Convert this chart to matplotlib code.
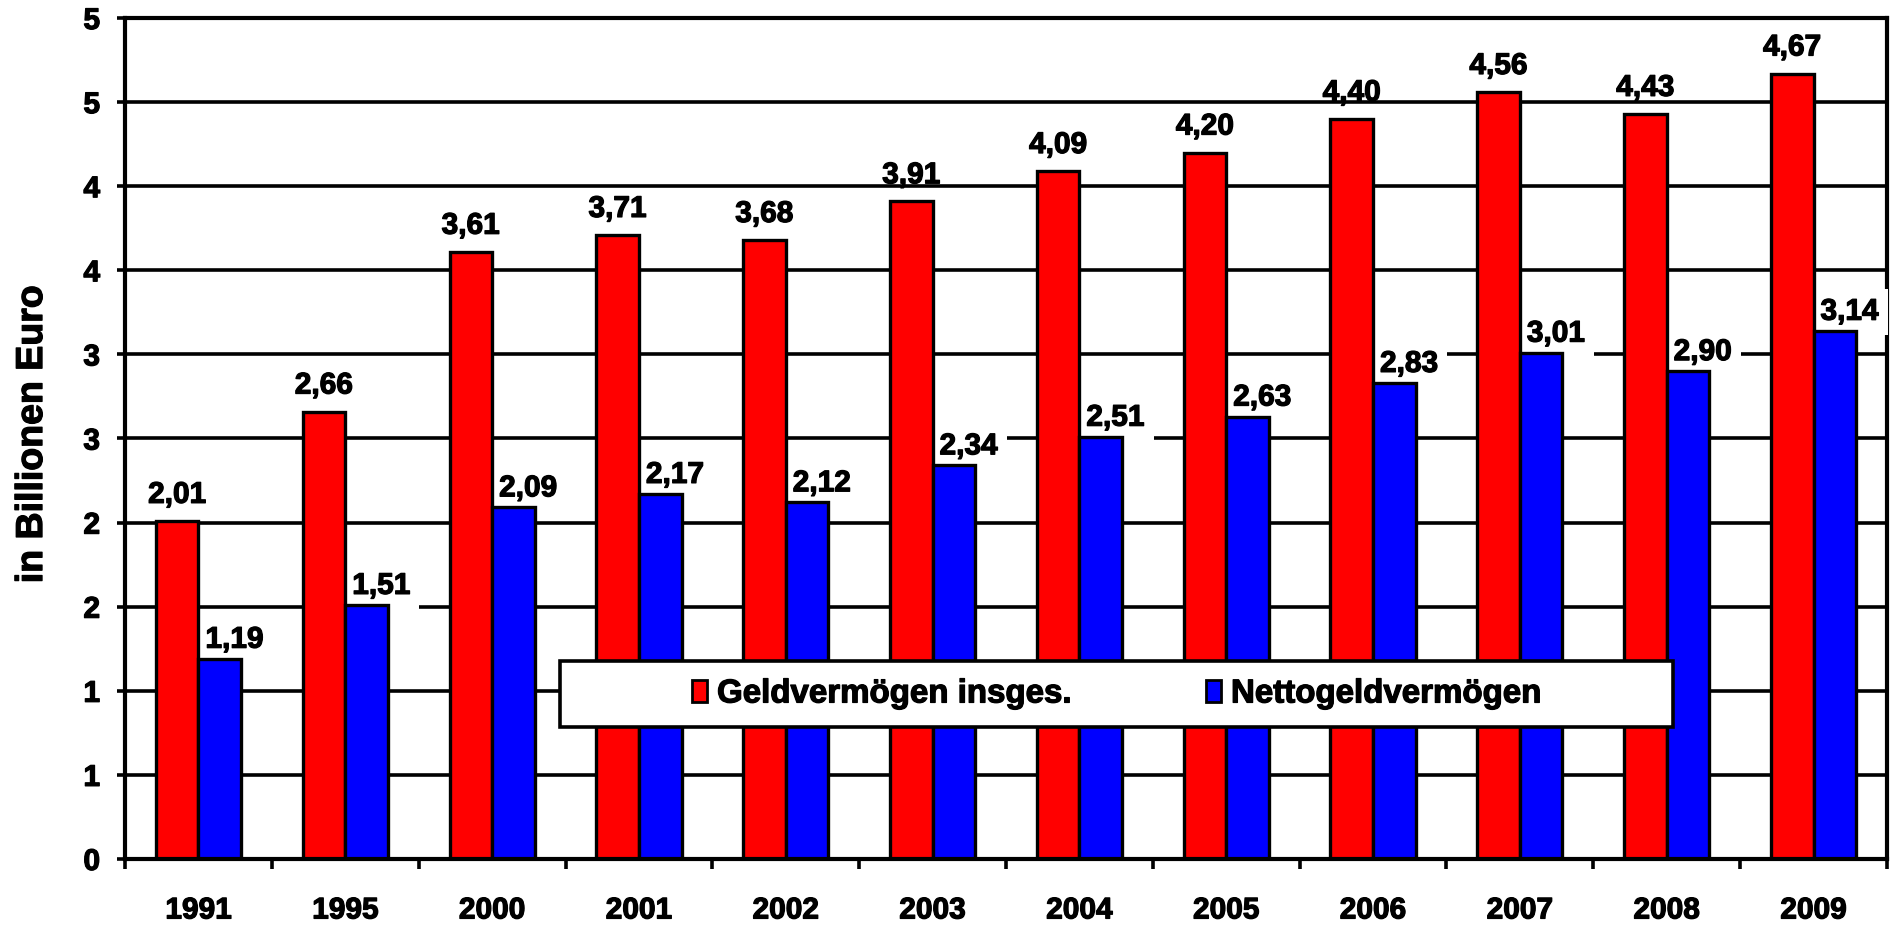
import numpy as np
import matplotlib
matplotlib.use("Agg")
import matplotlib.pyplot as plt
import matplotlib.patheffects as pe
from matplotlib.patches import Patch, Rectangle

plt.rcParams['font.family'] = ['Liberation Sans', 'DejaVu Sans']
plt.rcParams['font.weight'] = 'bold'

years = ["1991", "1995", "2000", "2001", "2002", "2003", "2004", "2005", "2006", "2007", "2008", "2009"]
geld_insges = [2.01, 2.66, 3.61, 3.71, 3.68, 3.91, 4.09, 4.20, 4.40, 4.56, 4.43, 4.67]
netto_geld = [1.19, 1.51, 2.09, 2.17, 2.12, 2.34, 2.51, 2.63, 2.83, 3.01, 2.90, 3.14]
y_ticks = [0, 0.5, 1.0, 1.5, 2.0, 2.5, 3.0, 3.5, 4.0, 4.5, 5.0]
y_tick_labels = ["0", "1", "1", "2", "2", "3", "3", "4", "4", "5", "5"]
series_names = ["Geldvermögen insges.", "Nettogeldvermögen"]

RED = "#ff0000"
BLUE = "#0000ff"
FS = 21.5
heavy = [pe.withStroke(linewidth=0.9, foreground="black")]

def fmt(v):
    return f"{v:.2f}".replace(".", ",")

fig = plt.figure(figsize=(19.01, 9.25), dpi=100)
ax = fig.add_axes([0.0658, 0.0714, 0.9268, 0.9091])

x = np.arange(len(years))
w = 0.29

# gridlines
for yt in y_ticks:
    ax.axhline(yt, color="black", lw=2.6, zorder=1.5)

ax.bar(x - w / 2, geld_insges, w, color=RED, edgecolor="black", lw=2.4, zorder=2)
ax.bar(x + w / 2, netto_geld, w, color=BLUE, edgecolor="black", lw=2.4, zorder=2)

for xi, v in zip(x, geld_insges):
    ax.annotate(fmt(v), (xi - w / 2, v), xytext=(0, 13), textcoords="offset points",
                ha="center", va="baseline", fontsize=FS, fontweight="bold", zorder=1,
                path_effects=heavy)

for xi, v in zip(x, netto_geld):
    ax.annotate(fmt(v), (xi, v), xytext=(5, 8), textcoords="offset points",
                ha="left", va="baseline", fontsize=FS, fontweight="bold", zorder=1.8,
                annotation_clip=False, path_effects=heavy,
                bbox=dict(boxstyle="square,pad=0.3", fc="white", ec="none"))

ax.set_xlim(-0.5, len(years) - 0.5)
ax.set_ylim(0, 5)

ax.set_xticks(x)
ax.set_xticklabels(years)
ax.set_xticks(np.arange(-0.5, len(years), 1.0), minor=True)
ax.tick_params(axis="x", which="major", length=0, pad=27, labelsize=FS)
ax.tick_params(axis="x", which="minor", length=7, width=2.6, direction="out")

ax.set_yticks(y_ticks)
ax.set_yticklabels(y_tick_labels)
ax.tick_params(axis="y", length=6, width=2.6, direction="out", pad=12, labelsize=FS)

for lab in ax.get_xticklabels() + ax.get_yticklabels():
    lab.set_fontweight("bold")
    lab.set_path_effects(heavy)

for sp in ax.spines.values():
    sp.set_linewidth(3)
    sp.set_color("black")
ax.spines["right"].set_zorder(1)

ax.set_ylabel("in Billionen Euro", fontsize=27, fontweight="bold", path_effects=heavy)
ax.yaxis.set_label_coords(-0.0426, 0.505)

# legend box
lx0, ly0, lx1, ly1 = 0.2469, 0.157, 0.8785, 0.2354
ax.add_patch(Rectangle((lx0, ly0), lx1 - lx0, ly1 - ly0, transform=ax.transAxes,
                       facecolor="white", edgecolor="black", lw=2.6, zorder=4.5))
handles = [Patch(facecolor=RED, edgecolor="black", lw=2),
           Patch(facecolor=BLUE, edgecolor="black", lw=2)]
leg = ax.legend(handles, series_names, loc="center", ncol=2, frameon=False,
                bbox_to_anchor=((lx0 + lx1) / 2, (ly0 + ly1) / 2),
                handlelength=0.45, handleheight=0.66, handletextpad=0.3,
                columnspacing=4.1, prop={"size": 23.8, "weight": "bold"})
leg.set_zorder(5)
for t in leg.get_texts():
    t.set_path_effects(heavy)

fig.savefig("out.png", dpi=100)
